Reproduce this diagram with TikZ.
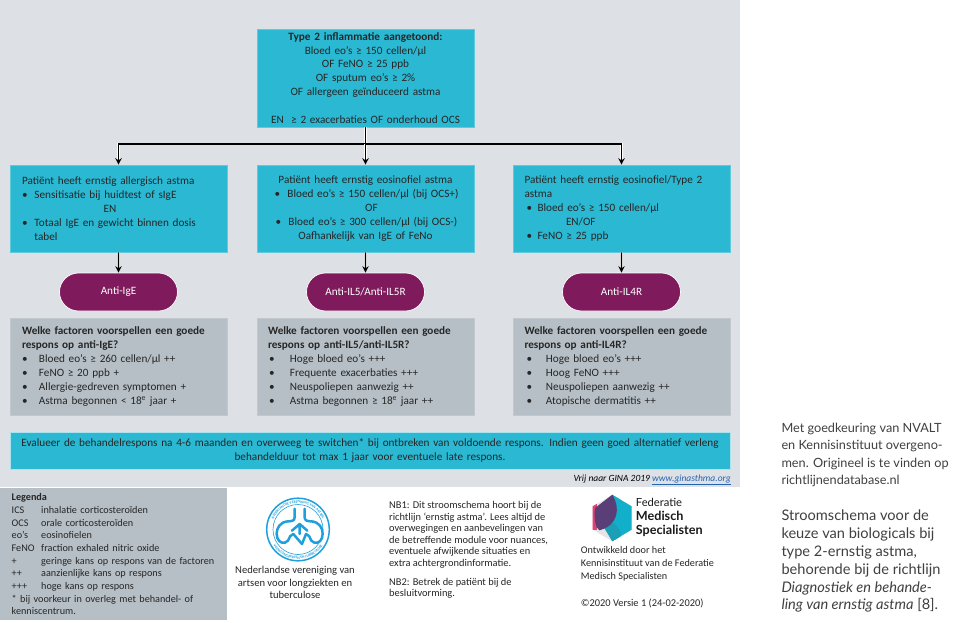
\documentclass[tikz,border=0pt]{standalone}
\usepackage{fontspec}
\setmainfont{Carlito}
\newfontfamily\capfont{Lato}
\usetikzlibrary{arrows.meta,decorations.text,calc,shapes.misc}
\definecolor{panel}{HTML}{DDE1E5}
\definecolor{tealc}{HTML}{2AB8D3}
\definecolor{plum}{HTML}{7F1A5C}
\definecolor{slate}{HTML}{B6BFC6}
\definecolor{nvblue}{HTML}{1F9FDB}
\definecolor{linkblue}{HTML}{2563B0}
\definecolor{fmspurple}{HTML}{5A3E78}
\definecolor{fmsteal}{HTML}{12AFCB}
\definecolor{fmsdark}{HTML}{1A9FB6}
\definecolor{fmspink}{HTML}{E53E73}
\newcommand\blt[3]{\makebox[#2pt][l]{\hspace*{#1pt}\textbullet}#3}
\newcommand\ctr[2]{\makebox[#1pt][c]{#2}}
\newcommand\lgd[2]{\makebox[29.5pt][l]{#1}#2}
\tikzset{
  x=1pt,y=-1pt,
  boxtxt/.style={font=\fontsize{11.2}{13.9}\selectfont,text=black!85,inner sep=0pt,align=left},
  tealbox/.style={boxtxt,fill=tealc,draw=tealc!75!white,line width=.6pt,minimum height=87pt,text width=217pt,minimum width=217pt},
  greybox/.style={boxtxt,fill=slate,draw=slate!85!white,line width=.6pt,minimum height=97pt,text width=217pt,minimum width=217pt},
  pill/.style={rounded rectangle,fill=plum,draw=white,line width=.7pt,text=white,minimum width=118pt,minimum height=38pt,inner sep=0pt,font=\fontsize{11.2}{14}\selectfont},
  conn/.style={-{Stealth[length=6.5pt,width=6.5pt]},line width=1.1pt,black,preaction={draw=white,line width=2.4pt,-{Stealth[length=6.5pt,width=6.5pt]}}},
  plainline/.style={line width=1.1pt,black,preaction={draw=white,line width=2.4pt}},
  small/.style={font=\fontsize{10.4}{11.5}\selectfont,text=black!85,inner sep=0pt,align=left},
}
\begin{document}
\begin{tikzpicture}
\useasboundingbox (0,0) rectangle (962,623);
\fill[white] (0,0) rectangle (962,623);
\fill[panel] (0,0) rectangle (740,487);

% top box
\node[boxtxt,fill=tealc,draw=tealc!75!white,line width=.6pt,minimum width=217pt,minimum height=98pt,text width=217pt,align=center] (top) at (365.5,78)
 {\textbf{Type 2 inflammatie aangetoond:}\\Bloed eo’s ≥ 150 cellen/µl\\OF FeNO ≥ 25 ppb\\OF sputum eo’s ≥ 2\%\\OF allergeen geïnduceerd astma\\\mbox{}\\EN\ \ ≥ 2 exacerbaties OF onderhoud OCS};

% condition boxes
\node[tealbox] (b1) at (118.5,208.5)
 {\hspace*{12pt}Patiënt heeft ernstig allergisch astma\\
  \blt{12}{24.5}{Sensitisatie bij huidtest of sIgE}\\
  \ctr{200}{EN}\\
  \blt{12}{24.5}{Totaal IgE en gewicht binnen dosis}\\
  \hspace*{24.5pt}tabel};
\node[tealbox] (b2) at (365.5,208.5)
 {\ctr{217}{Patiënt heeft ernstig eosinofiel astma}\\
  \blt{17.5}{30.5}{Bloed eo’s ≥ 150 cellen/µl (bij OCS+)}\\
  \ctr{229}{OF}\\
  \blt{18.5}{31.5}{Bloed eo’s ≥ 300 cellen/µl (bij OCS-)}\\
  \ctr{217}{Oafhankelijk van IgE of FeNo}};
\node[tealbox] (b3) at (621.5,208.5)
 {\hspace*{11.5pt}Patiënt heeft ernstig eosinofiel/Type 2\\
  \hspace*{11.5pt}astma\\
  \blt{13.5}{24.5}{Bloed eo’s ≥ 150 cellen/µl}\\
  \hspace*{53pt}EN/OF\\
  \blt{13.5}{24.5}{FeNO ≥ 25 ppb}};

% pills
\node[pill] (p1) at (118.5,292) {Anti-IgE};
\node[pill] (p2) at (365.5,292) {Anti-IL5/Anti-IL5R};
\node[pill] (p3) at (621.5,292) {Anti-IL4R};

% factor boxes
\node[greybox] (g1) at (118.5,366.5)
 {\hspace*{12pt}\textbf{Welke factoren voorspellen een goede}\\
  \hspace*{12pt}\textbf{respons op anti-IgE?}\\
  \blt{12}{29}{Bloed eo’s ≥ 260 cellen/µl ++}\\
  \blt{12}{29}{FeNO ≥ 20 ppb +}\\
  \blt{12}{29}{Allergie-gedreven symptomen +}\\
  \blt{12}{29}{Astma begonnen < 18\textsuperscript{e} jaar +}};
\node[greybox] (g2) at (365.5,366.5)
 {\hspace*{11pt}\textbf{Welke factoren voorspellen een goede}\\
  \hspace*{11pt}\textbf{respons op anti-IL5/anti-IL5R?}\\
  \blt{12}{33}{Hoge bloed eo’s +++}\\
  \blt{12}{33}{Frequente exacerbaties +++}\\
  \blt{12}{33}{Neuspoliepen aanwezig ++}\\
  \blt{12}{33}{Astma begonnen ≥ 18\textsuperscript{e} jaar ++}};
\node[greybox] (g3) at (621.5,366.5)
 {\hspace*{11.5pt}\textbf{Welke factoren voorspellen een goede}\\
  \hspace*{11.5pt}\textbf{respons op anti-IL4R?}\\
  \blt{13.5}{33}{Hoge bloed eo’s +++}\\
  \blt{13.5}{33}{Hoog FeNO +++}\\
  \blt{13.5}{33}{Neuspoliepen aanwezig ++}\\
  \blt{13.5}{33}{Atopische dermatitis ++}};

% evaluation bar
\node[boxtxt,fill=tealc,draw=white!60!tealc,line width=.6pt,minimum width=720pt,minimum height=37pt,text width=720pt,align=center] (ev) at (370,450.5)
 {Evalueer de behandelrespons na 4-6 maanden en overweeg te switchen* bij ontbreken van voldoende respons. Indien geen goed alternatief verleng\\behandelduur tot max 1 jaar voor eventuele late respons.};

\node[inner sep=0pt,anchor=east,font=\fontsize{9.5}{11}\selectfont\itshape] (src) at (731,480)
 {Vrij naar GINA 2019 \textcolor{linkblue}{\underline{www.ginasthma.org}}};

% connectors
\coordinate (j) at (365.5,144);
\draw[plainline] (top) -- (j);
\draw[conn] (j) -| (b1.north);
\draw[conn] (j) -- (b2.north);
\draw[conn] (j) -| (b3.north);
\draw[conn] (b1) -- (p1);
\draw[conn] (b2) -- (p2);
\draw[conn] (b3) -- (p3);

% legend
\node[small,fill=slate,minimum width=227pt,minimum height=132pt,text width=227pt,anchor=north west,font=\fontsize{10.2}{12.67}\selectfont] (leg) at (0,488)
 {\hspace*{11.5pt}\textbf{Legenda}\\
  \hspace*{11.5pt}\lgd{ICS}{inhalatie corticosteroïden}\\
  \hspace*{11.5pt}\lgd{OCS}{orale corticosteroïden}\\
  \hspace*{11.5pt}\lgd{eo’s}{eosinofielen}\\
  \hspace*{11.5pt}\lgd{FeNO}{fraction exhaled nitric oxide}\\
  \hspace*{11.5pt}\lgd{+}{geringe kans op respons van de factoren}\\
  \hspace*{11.5pt}\lgd{++}{aanzienlijke kans op respons}\\
  \hspace*{11.5pt}\lgd{+++}{hoge kans op respons}\\
  \hspace*{11.5pt}* bij voorkeur in overleg met behandel- of\\
  \hspace*{11.5pt}kenniscentrum.};

% NVALT logo
\begin{scope}[shift={(298,529.5)},x=1pt,y=1pt]
  \draw[nvblue,line width=1.5pt] (0,0) circle (31.3pt);
  \draw[nvblue,line width=.6pt] (0,0) circle (25pt);
  \path[decorate,decoration={text along path,text align=center,text={|\fontsize{3.6}{4}\selectfont\bfseries\color{nvblue}|NEDERLANDSE VERENIGING VAN ARTSEN}}]
    (165:26.5pt) arc[start angle=165,end angle=15,radius=26.5pt];
  \path[decorate,decoration={text along path,text align=center,text={|\fontsize{3.6}{4}\selectfont\bfseries\color{nvblue}|VOOR LONGZIEKTEN EN TUBERCULOSE}}]
    (195:29.5pt) arc[start angle=195,end angle=345,radius=29.5pt];
\end{scope}
\begin{scope}[shift={(260,492)},x=.3333pt,y=-.3333pt]
  \draw[nvblue,line width=2.5pt,line join=round,line cap=round]
    (104,50) -- (104,76) .. controls (104,86) and (96,88) .. (84,88) .. controls (60,90) and (50,108) .. (50,125)
    .. controls (50,145) and (62,155) .. (75,152) -- (84,146) .. controls (90,135) and (90,128) .. (100,126) -- (126,156);
  \draw[nvblue,line width=2.5pt,line join=round,line cap=round]
    (134,50) -- (134,76) .. controls (134,86) and (142,88) .. (154,88) .. controls (178,90) and (188,108) .. (188,125)
    .. controls (188,145) and (176,155) .. (163,152) -- (154,146) .. controls (148,135) and (148,128) .. (138,126) -- (126,156);
  \draw[nvblue,line width=2.5pt,line join=round,line cap=round]
    (96,116) -- (119,96) -- (142,116) (119,96) -- (119,126);
\end{scope}
\node[small,align=center,font=\fontsize{10.6}{12.6}\selectfont] (nv) at (295,582.6)
 {Nederlandse vereniging van\\artsen voor longziekten en\\tuberculose};

% NB text
\node[small,anchor=north west] (nb1) at (389,501.5)
 {NB1: Dit stroomschema hoort bij de\\richtlijn ‘ernstig astma’. Lees altijd de\\overwegingen en aanbevelingen van\\de betreffende module voor nuances,\\eventuele afwijkende situaties en\\extra achtergrondinformatie.};
\node[small,anchor=north west] (nb2) at (389,578)
 {NB2: Betrek de patiënt bij de\\besluitvorming.};

% FMS logo
\begin{scope}[shift={(580,488)},x=.3333pt,y=-.3333pt]
  \begin{scope}
    \clip (97,20) -- (155,55) -- (155,125) -- (97,160) -- (38,125) -- (38,55) -- cycle;
    \fill[black!10] (30,10) rectangle (165,170);
    \fill[fmsteal] (97,20) -- (155,55) -- (155,125) -- (97,160) -- (70,110) -- cycle;
    \fill[fmsdark] (60,100) .. controls (85,92) and (110,105) .. (122,132) -- (122,145) -- (97,160) -- (85,140) -- cycle;
    \fill[fmspink] (30,40) rectangle (50,125);
    \fill[fmspurple] (97,20) .. controls (122,60) and (115,112) .. (58,127) .. controls (45,120) and (42,90) .. (45,60) -- cycle;
  \end{scope}
\end{scope}
\node[inner sep=0pt,anchor=north west,align=left,font=\capfont\fontsize{12.6}{13.6}\selectfont,text=black!90] (fms) at (635.7,498.5)
 {{\fontsize{11.2}{13.6}\selectfont Federatie}\\\textbf{Medisch}\\\textbf{Specialisten}};
\node[small,anchor=north west,font=\fontsize{10.2}{12.7}\selectfont] (dev) at (580.7,546.5)
 {Ontwikkeld door het\\Kennisinstituut van de Federatie\\Medisch Specialisten};
\node[small,anchor=west] (ver) at (580.7,603) {©2020 Versie 1 (24-02-2020)};

% caption
\node[inner sep=0pt,anchor=north west,align=left,font=\capfont\fontsize{12.7}{17.5}\selectfont,text=black!75] (c1) at (781.3,422.5)
 {Met goedkeuring van NVALT\\en Kennisinstituut overgeno-\\men. Origineel is te vinden op\\richtlijnendatabase.nl};
\node[inner sep=0pt,anchor=north west,align=left,font=\capfont\fontsize{14.6}{17.8}\selectfont,text=black!75] (c2) at (781.3,510)
 {Stroomschema voor de\\keuze van biologicals bij\\type 2-ernstig astma,\\behorende bij de richtlijn\\\textit{Diagnostiek en behande-}\\\textit{ling van ernstig astma} [8].};
\end{tikzpicture}
\end{document}
